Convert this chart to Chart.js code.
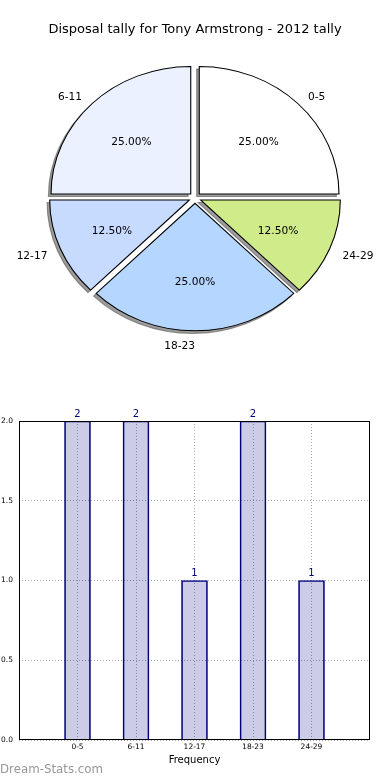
<!DOCTYPE html>
<html>
<head>
<meta charset="utf-8">
<script src="https://cdn.jsdelivr.net/npm/chart.js@4.4.1/dist/chart.umd.min.js"></script>
<style>
  html, body { margin: 0; padding: 0; background: #fff; }
  #page { position: relative; width: 390px; height: 780px; overflow: hidden; }
  #pieBox { position: absolute; left: 0; top: 0; width: 390px; height: 360px; }
  #barBox { position: absolute; left: 0; top: 360px; width: 390px; height: 420px; }
  #mark {
    position: absolute; left: 0; top: 762px;
    font-family: "DejaVu Sans", sans-serif; font-size: 11.8px; color: #979797;
  }
</style>
</head>
<body>
<div id="page">
  <div id="pieBox"><canvas id="pieChart" width="390" height="360"></canvas></div>
  <div id="barBox"><canvas id="barChart" width="390" height="420"></canvas></div>
  <div id="mark">Dream-Stats.com</div>
</div>
<script>
// data
const title = "Disposal tally for Tony Armstrong - 2012 tally";
const categories = ["0-5", "6-11", "12-17", "18-23", "24-29"];
const tally = [2, 2, 1, 2, 1];
const yTicks = [0, 0.5, 1.0, 1.5, 2.0];
const sliceColors = ["#ffffff", "#ebf1ff", "#c7daff", "#b5d6ff", "#d0eb8a"];

Chart.defaults.font.family = "'DejaVu Sans', sans-serif";
Chart.defaults.color = "#000";

// pie look (matplotlib style: ellipse, exploded, shadow)
const stretch = 1.096;
const explode = 5.5;
const shadowShift = 2.6;
const shadowColor = "rgba(60,60,60,0.5)";

const total = tally.reduce((a, b) => a + b, 0);

// chart.js goes clockwise, matplotlib went counter-clockwise from east
const pieLabels = categories.slice().reverse();
const pieValues = tally.slice().reverse();
const pieFill = sliceColors.slice().reverse();

const pieDraw = {
  id: "pieDraw",
  beforeDatasetsDraw(chart) {
    const ctx = chart.ctx;
    const arcs = chart.getDatasetMeta(0).data;
    const cx = arcs[0].x, cy = arcs[0].y;

    ctx.save();
    ctx.translate(cx, 0);
    ctx.scale(stretch, 1);
    ctx.translate(-cx, 0);
    // shadows first
    arcs.forEach((arc) => {
      const mid = (arc.startAngle + arc.endAngle) / 2;
      const ghost = Object.create(arc);
      ghost.options = Object.assign({}, arc.options, {
        backgroundColor: shadowColor,
        borderColor: shadowColor,
      });
      ctx.save();
      ctx.translate(Math.cos(mid) * explode - shadowShift / stretch, Math.sin(mid) * explode + shadowShift);
      ghost.draw(ctx);
      ctx.restore();
    });
    arcs.forEach((arc) => {
      const mid = (arc.startAngle + arc.endAngle) / 2;
      ctx.save();
      ctx.translate(Math.cos(mid) * explode, Math.sin(mid) * explode);
      arc.draw(ctx);
      ctx.restore();
    });
    ctx.restore();

    // labels
    ctx.save();
    ctx.fillStyle = "#000";
    ctx.font = "10.6px 'DejaVu Sans'";
    ctx.textBaseline = "middle";
    arcs.forEach((arc, i) => {
      const mid = (arc.startAngle + arc.endAngle) / 2;
      const c = Math.cos(mid), s = Math.sin(mid);
      const r = arc.outerRadius;
      const pct = ((pieValues[i] / total) * 100).toFixed(2) + "%";
      const pd = explode + r * 0.6;
      ctx.textAlign = "center";
      ctx.fillText(pct, cx + c * pd * stretch, cy + s * pd + 2.5);
      const ld = explode + r * 1.1;
      ctx.textAlign = c > 0.001 ? "left" : "right";
      ctx.fillText(pieLabels[i], cx + c * ld * stretch, cy + s * ld + 2.5);
    });
    ctx.restore();
    return false;
  },
};

new Chart(document.getElementById("pieChart"), {
  type: "pie",
  data: {
    labels: pieLabels,
    datasets: [{
      data: pieValues,
      backgroundColor: pieFill,
      borderColor: "#000",
      borderWidth: 1,
      borderJoinStyle: "miter",
      radius: 127.5,
      rotation: 90,
      hoverOffset: 0,
      clip: false,
    }],
  },
  options: {
    responsive: false,
    animation: false,
    events: [],
    layout: { padding: { top: 0, left: 0, right: 0, bottom: 12 } },
    plugins: {
      legend: { display: false },
      tooltip: { enabled: false },
      title: {
        display: true,
        text: title,
        color: "#000",
        font: { size: 13, weight: "normal" },
        padding: { top: 22, bottom: 10 },
      },
    },
  },
  plugins: [pieDraw],
});

// bar chart
const barExtras = {
  id: "barExtras",
  afterDatasetsDraw(chart) {
    const ctx = chart.ctx;
    const a = chart.chartArea;
    ctx.save();
    ctx.strokeStyle = "#000";
    ctx.lineWidth = 1;
    ctx.strokeRect(Math.round(a.left) + 0.5, Math.round(a.top) + 0.5,
      Math.round(a.right - a.left) - 1, Math.round(a.bottom - a.top) - 1);
    ctx.fillStyle = "#000080";
    ctx.font = "10px 'DejaVu Sans'";
    ctx.textAlign = "center";
    ctx.textBaseline = "bottom";
    chart.getDatasetMeta(0).data.forEach((bar, i) => {
      ctx.fillText(String(tally[i]), bar.x, bar.y - 2);
    });
    ctx.restore();
  },
};

new Chart(document.getElementById("barChart"), {
  type: "bar",
  data: {
    datasets: [{
      data: tally.map((v, i) => ({ x: i, y: v })),
      backgroundColor: "rgba(0,0,128,0.2)",
      borderColor: "#000080",
      borderWidth: 1,
      barThickness: 26,
    }],
  },
  options: {
    responsive: false,
    animation: false,
    events: [],
    layout: { padding: { top: 61, right: 20, left: 0, bottom: 0 } },
    plugins: { legend: { display: false }, tooltip: { enabled: false } },
    scales: {
      x: {
        type: "linear",
        min: -1,
        max: 5,
        offset: false,
        afterBuildTicks: (s) => { s.ticks = categories.map((c, i) => ({ value: i })); },
        afterFit: (s) => { s.height = 40; },
        ticks: {
          callback: (v) => categories[v] ?? "",
          font: { size: 7.5 },
          color: "#000",
          padding: 3,
          autoSkip: false,
          maxRotation: 0,
        },
        grid: { color: "#a8a8a8", drawTicks: false, offset: false },
        border: { display: false, dash: [1, 2] },
        title: {
          display: true,
          text: "Frequency",
          color: "#000",
          font: { size: 10 },
          padding: { top: 0, bottom: 14 },
        },
      },
      y: {
        min: 0,
        max: 2,
        afterBuildTicks: (s) => { s.ticks = yTicks.map((v) => ({ value: v })); },
        afterFit: (s) => { s.width = 19; },
        ticks: {
          callback: (v) => Number(v).toFixed(1),
          font: { size: 7.5 },
          color: "#000",
          padding: 6,
        },
        grid: { color: "#a8a8a8", drawTicks: false },
        border: { display: false, dash: [1, 2] },
      },
    },
  },
  plugins: [barExtras],
});
</script>
</body>
</html>
